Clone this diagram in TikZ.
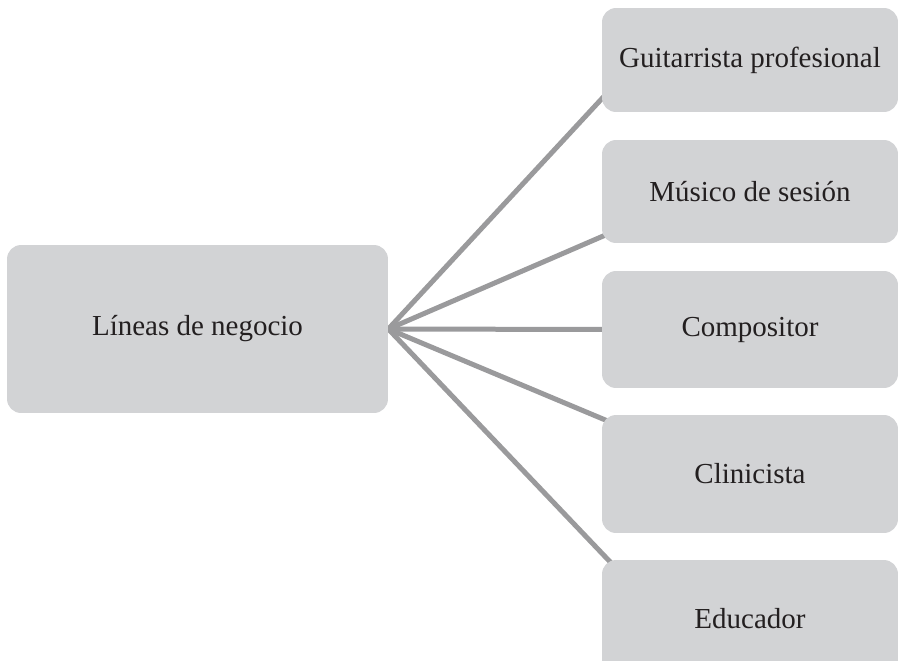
\documentclass[tikz,border=0pt]{standalone}
\usepackage{fontspec}
\setmainfont{Liberation Serif}
\usepackage{tikz}
\usetikzlibrary{calc, backgrounds}
\usepackage{xcolor}
\definecolor{boxgray}{HTML}{D2D3D5}
\definecolor{linegray}{HTML}{9A9A9C}
\definecolor{textgray}{HTML}{231F20}

\tikzset{
  box/.style={rectangle, rounded corners=0.28cm, fill=boxgray, text=textgray,
    font=\fontsize{16.5}{20}\selectfont, inner sep=0pt},
  branch/.style={box, minimum width=5.92cm},
  link/.style={draw=linegray, line width=0.1cm}
}

\begin{document}
\begin{tikzpicture}[x=0.02cm, y=-0.02cm]
  \useasboundingbox (0,0) rectangle (899,660);
  % Nodes
  \node[box, minimum width=7.62cm, minimum height=3.36cm] (lineas) at (197.5,329) {Líneas de negocio};
  \node[branch, minimum height=2.08cm] (b1) at (750,60) {Guitarrista profesional};
  \node[branch, minimum height=2.06cm] (b2) at (750,191.5) {Músico de sesión};
  \node[branch, minimum height=2.34cm] (b3) at (750,329.5) {Compositor};
  \node[branch, minimum height=2.36cm] (b4) at (750,474) {Clinicista};
  \node[branch, minimum height=2.34cm] (b5) at (750,618.5) {Educador};

  % Connectors, under the boxes
  \begin{scope}[on background layer]
    \foreach \x/\anc/\dx/\dy in {1/south west/6/-20, 2/south west/10/-11, 3/west/8/0, 4/north west/10/8, 5/north west/13/7}
    {
      \draw[link] (lineas.east) -- ($(b\x.\anc)+(\dx,\dy)$);
    }
  \end{scope}
\end{tikzpicture}
\end{document}
